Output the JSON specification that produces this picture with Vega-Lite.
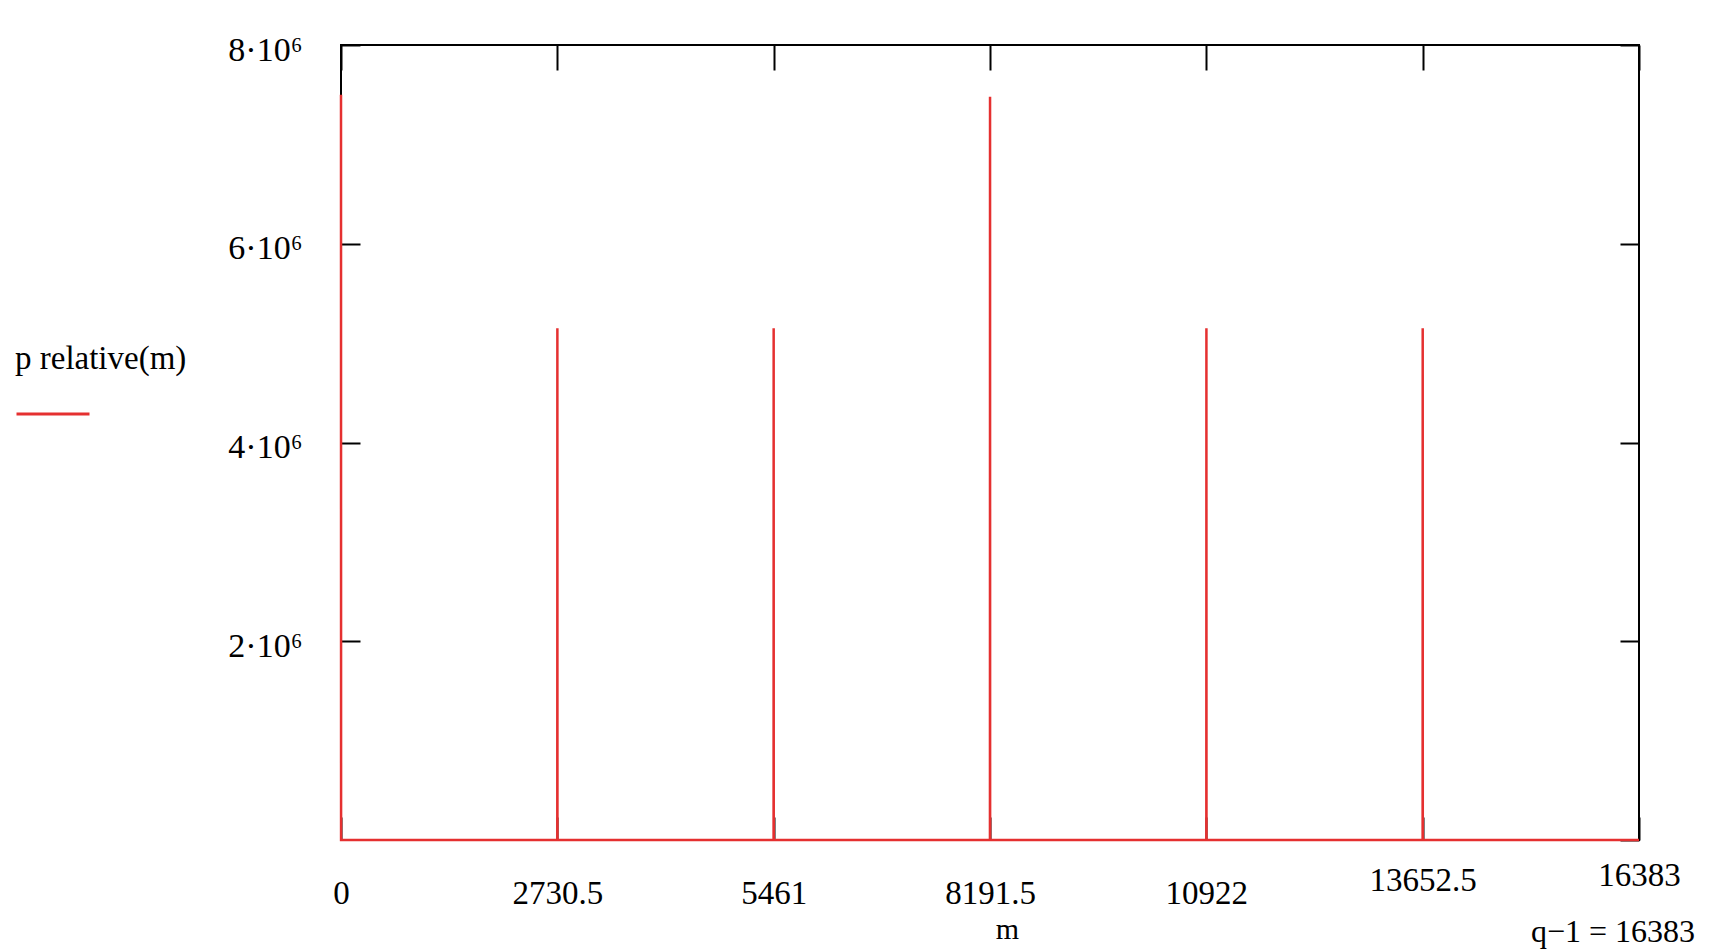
{
  "$schema": "https://vega.github.io/schema/vega-lite/v6.json",
  "width": 1298,
  "height": 795,
  "autosize": {"type": "none"},
  "padding": {"left": 341, "top": 45, "right": 90, "bottom": 112},
  "background": "white",
  "config": {"view": {"stroke": "black", "strokeWidth": 2}, "font": "Liberation Serif"},
  "title": {"text": "q−1 = 16383", "orient": "bottom", "anchor": "end", "frame": "group", "font": "Liberation Serif", "fontSize": 32, "fontWeight": "normal", "color": "black", "dx": 56, "offset": -27},
  "data": {"values": [
    {"m": 0, "p": 7500000},
    {"m": 1, "p": 0},
    {"m": 2730, "p": 0},
    {"m": 2731, "p": 5150000},
    {"m": 2732, "p": 0},
    {"m": 5460, "p": 0},
    {"m": 5461, "p": 5150000},
    {"m": 5462, "p": 0},
    {"m": 8191, "p": 0},
    {"m": 8192, "p": 7480000},
    {"m": 8193, "p": 0},
    {"m": 10922, "p": 0},
    {"m": 10923, "p": 5150000},
    {"m": 10924, "p": 0},
    {"m": 13652, "p": 0},
    {"m": 13653, "p": 5150000},
    {"m": 13654, "p": 0},
    {"m": 16383, "p": 0}
  ]},
  "layer": [
    {
      "mark": {"type": "line", "strokeWidth": 2.5, "clip": false},
      "encoding": {
        "x": {"field": "m", "type": "quantitative", "scale": {"domain": [0, 16383], "nice": false, "zero": false},
          "axis": {"orient": "bottom", "values": [0, 2730.5, 5461, 8191.5, 10922, 13652.5, 16383], "labelExpr": "datum.value + ''",
            "domain": false, "grid": false, "tickSize": -23, "tickWidth": 2, "tickColor": "black",
            "labelFont": "Liberation Serif", "labelFontSize": 33, "labelColor": "black",
            "labelPadding": {"condition": [{"test": "datum.value > 16000", "value": 42}, {"test": "datum.value > 13000", "value": 47}], "value": 60},
            "labelBaseline": "top",
            "labelFlush": false, "labelOverlap": false, "labelAlign": "center",
            "title": "m", "titleFont": "Liberation Serif", "titleFontSize": 30, "titleFontWeight": "normal", "titleColor": "black",
            "titleX": 666, "titleY": 98, "titleBaseline": "alphabetic"}},
        "y": {"field": "p", "type": "quantitative", "scale": {"domain": [0, 8000000], "nice": false},
          "axis": {"orient": "left", "values": [2000000, 4000000, 6000000, 8000000], "labelExpr": "(datum.value / 1000000) + '·10⁶'",
            "domain": false, "grid": false, "tickSize": -19, "tickWidth": 2, "tickColor": "black",
            "labelFont": "Liberation Serif", "labelFontSize": 34, "labelColor": "black", "labelPadding": 58, "labelBaseline": "middle",
            "labelOffset": 5,
            "labelFlush": false, "labelOverlap": false, "title": null}},
        "color": {"datum": "p", "scale": {"range": ["#e53030"]},
          "legend": {"title": "p relative(m)", "orient": "none", "legendX": -326, "legendY": 298, "symbolType": "stroke",
            "symbolSize": 5329, "symbolStrokeWidth": 3, "labelExpr": "''", "labelFontSize": 1, "padding": 0,
            "titleFont": "Liberation Serif", "titleFontSize": 33, "titleFontWeight": "normal", "titleColor": "black", "titlePadding": 0}}
      }
    },
    {
      "mark": {"type": "line", "opacity": 0},
      "encoding": {
        "x": {"field": "m", "type": "quantitative",
          "axis": {"orient": "top", "values": [0, 2730.5, 5461, 8191.5, 10922, 13652.5, 16383], "labels": false, "domain": false, "grid": false,
            "tickSize": -25, "tickWidth": 2, "tickColor": "black", "title": null}},
        "y": {"field": "p", "type": "quantitative",
          "axis": {"orient": "right", "values": [0, 2000000, 4000000, 6000000, 8000000], "labels": false, "domain": false, "grid": false,
            "tickSize": -19, "tickWidth": 2, "tickColor": "black", "title": null}}
      }
    }
  ],
  "resolve": {"axis": {"x": "independent", "y": "independent"}}
}
